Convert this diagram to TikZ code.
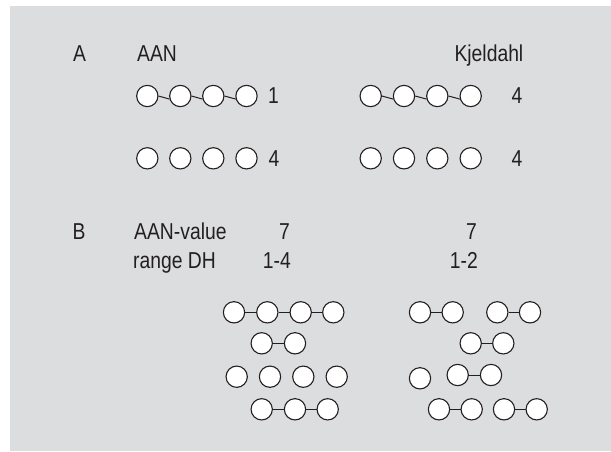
\documentclass[tikz,border=0pt]{standalone}
\usepackage{fontspec}
\setmainfont{Liberation Sans}[FakeStretch=0.84]
\definecolor{panel}{HTML}{DCDDDF}
\definecolor{ink}{HTML}{231F20}
\tikzset{
  bead/.style={circle, draw=ink, fill=white, line width=1.1pt, minimum size=21.3pt, inner sep=0pt},
  link/.style={draw=ink, line width=1pt},
  lbl/.style={font=\fontsize{23}{26}\selectfont, text=ink, inner sep=0pt},
}
\begin{document}
\begin{tikzpicture}[x=1pt,y=-1pt]
\useasboundingbox (0,0) rectangle (611,451);
\fill[panel] (10,6) rectangle (611,451);

% --- Part A: headings and values
\node[lbl, anchor=base west] (tA)   at (73,61)    {A};
\node[lbl, anchor=base west] (tAAN) at (137,61)   {AAN};
\node[lbl, anchor=base east] (tKj)  at (523.5,61.5) {Kjeldahl};
\node[lbl, anchor=base west] (vL1)  at (268,103.5) {1};
\node[lbl, anchor=base west] (vL2)  at (268.5,166) {4};
\node[lbl, anchor=base east] (vR1)  at (522.5,103.5) {4};
\node[lbl, anchor=base east] (vR2)  at (522.5,166) {4};

% --- Part A: bead chains
\foreach \x [count=\i] in {147.3,180.3,213.3,246.5}{
  \node[bead] (aL\i) at (\x,96) {};
  \node[bead] (bL\i) at (\x,158.3) {};
}
\foreach \x [count=\i] in {370.7,404,437.3,470.7}{
  \node[bead] (aR\i) at (\x,96) {};
  \node[bead] (bR\i) at (\x,158.3) {};
}
\foreach \i/\j in {1/2,2/3,3/4}{
  \draw[link] (aL\i.east) -- (aL\j.196);
  \draw[link] (aR\i.east) -- (aR\j.196);
}

% --- Part B: headings and values
\node[lbl, anchor=base west] (tB)    at (72.5,239) {B};
\node[lbl, anchor=base west] (tVal)  at (134,239)  {AAN-value};
\node[lbl, anchor=base west] (tRng)  at (133,268)  {range DH};
\node[lbl, anchor=base east] (vB1)   at (290,239)  {7};
\node[lbl, anchor=base east] (vB2)   at (291,268)  {1-4};
\node[lbl, anchor=base east] (vB3)   at (477,239)  {7};
\node[lbl, anchor=base east] (vB4)   at (478,268)  {1-2};

% --- Part B, left: fragments
\foreach \x [count=\i] in {234,267.3,300.7,333.3}
  \node[bead] (p\i) at (\x,312.3) {};
\draw[link] (p1) -- (p2) (p2) -- (p3) (p3) -- (p4);
\foreach \x [count=\i] in {261.7,295}
  \node[bead] (q\i) at (\x,343.3) {};
\draw[link] (q1) -- (q2);
\foreach \x [count=\i] in {236.7,270,303.3,336.7}
  \node[bead] (s\i) at (\x,376.7) {};
\foreach \x [count=\i] in {261.7,295,327.7}
  \node[bead] (t\i) at (\x,409.3) {};
\draw[link] (t1) -- (t2) (t2) -- (t3);

% --- Part B, right: fragments
\foreach \x [count=\i] in {420,452.7,497.3,530}
  \node[bead] (u\i) at (\x,312.3) {};
\draw[link] (u1) -- (u2) (u3) -- (u4);
\foreach \x [count=\i] in {470.7,503.3}
  \node[bead] (v\i) at (\x,343.3) {};
\draw[link] (v1) -- (v2);
\node[bead] (w1) at (420,378.3) {};
\foreach \x [count=\i] in {457.7,491}
  \node[bead] (w\the\numexpr\i+1\relax) at (\x,375) {};
\draw[link] (w2) -- (w3);
\foreach \x [count=\i] in {439,471.7,504,536.7}
  \node[bead] (z\i) at (\x,409.3) {};
\draw[link] (z1) -- (z2) (z3) -- (z4);
\end{tikzpicture}
\end{document}
